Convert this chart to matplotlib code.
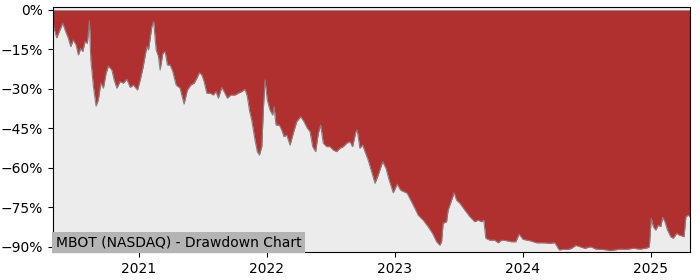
import pandas as pd
import matplotlib
matplotlib.use('Agg')
import matplotlib.pyplot as plt
import matplotlib.dates as mdates
from matplotlib.ticker import FuncFormatter

# Constants
TICKER_LABEL = 'MBOT (NASDAQ) - Drawdown Chart'
FILL_COLOR = '#b03030'
BG_COLOR = '#ececec'
LINE_COLOR = '#808080'

# Drawdown: time as decimal years, drawdown in percent
years = [
    2020.329, 2020.358, 2020.378, 2020.405, 2020.423, 2020.449, 2020.467, 2020.488,
    2020.509, 2020.527, 2020.545, 2020.561, 2020.579, 2020.597, 2020.613, 2020.624,
    2020.644, 2020.665, 2020.683, 2020.702, 2020.722, 2020.743, 2020.761, 2020.788,
    2020.806, 2020.827, 2020.852, 2020.878, 2020.905, 2020.931, 2020.956, 2020.988,
    2021.009, 2021.030, 2021.061, 2021.074, 2021.100, 2021.114, 2021.134, 2021.152,
    2021.165, 2021.186, 2021.204, 2021.222, 2021.243, 2021.264, 2021.290, 2021.321,
    2021.352, 2021.378, 2021.405, 2021.431, 2021.452, 2021.472, 2021.491, 2021.509,
    2021.530, 2021.556, 2021.581, 2021.602, 2021.620, 2021.647, 2021.665, 2021.691,
    2021.717, 2021.751, 2021.777, 2021.803, 2021.829, 2021.847, 2021.863, 2021.881,
    2021.907, 2021.925, 2021.941, 2021.960, 2021.972, 2021.985, 2022.003, 2022.024,
    2022.045, 2022.056, 2022.071, 2022.097, 2022.116, 2022.134, 2022.155, 2022.181,
    2022.206, 2022.233, 2022.264, 2022.290, 2022.316, 2022.337, 2022.358, 2022.381,
    2022.402, 2022.420, 2022.441, 2022.467, 2022.493, 2022.519, 2022.545, 2022.571,
    2022.597, 2022.624, 2022.649, 2022.670, 2022.696, 2022.706, 2022.727, 2022.749,
    2022.767, 2022.792, 2022.819, 2022.845, 2022.870, 2022.905, 2022.931, 2022.956,
    2022.988, 2023.019, 2023.045, 2023.071, 2023.097, 2023.131, 2023.157, 2023.183,
    2023.222, 2023.261, 2023.295, 2023.327, 2023.352, 2023.366, 2023.378, 2023.405,
    2023.417, 2023.444, 2023.464, 2023.483, 2023.509, 2023.548, 2023.587, 2023.626,
    2023.652, 2023.678, 2023.696, 2023.712, 2023.743, 2023.782, 2023.808, 2023.835,
    2023.874, 2023.913, 2023.946, 2023.972, 2024.003, 2024.056, 2024.108, 2024.160,
    2024.212, 2024.251, 2024.285, 2024.316, 2024.355, 2024.381, 2024.415, 2024.446,
    2024.485, 2024.530, 2024.571, 2024.616, 2024.655, 2024.681, 2024.720, 2024.759,
    2024.811, 2024.863, 2024.915, 2024.967, 2024.988, 2025.003, 2025.019, 2025.038,
    2025.058, 2025.077, 2025.092, 2025.110, 2025.128, 2025.155, 2025.175, 2025.202,
    2025.222, 2025.249, 2025.259, 2025.274, 2025.292, 2025.306,
]
drawdown = [
    -5.7, -10.6, -8.2, -5.0, -7.6, -10.8, -13.9, -11.4,
    -13.3, -17.1, -14.6, -15.8, -12.0, -12.7, -4.1, -19.0,
    -29.0, -36.5, -34.0, -27.8, -29.7, -24.0, -21.3, -22.8,
    -26.6, -29.7, -27.2, -27.8, -26.3, -29.4, -28.5, -30.4,
    -26.6, -22.1, -13.9, -15.2, -6.3, -4.4, -15.2, -17.7,
    -22.8, -16.5, -15.8, -20.9, -20.9, -23.4, -28.5, -29.7,
    -35.7, -30.4, -28.5, -27.8, -25.9, -23.8, -24.7, -27.2,
    -31.6, -31.6, -32.3, -31.0, -33.5, -29.4, -31.0, -33.5,
    -32.3, -32.3, -31.6, -31.0, -30.1, -32.9, -38.0, -41.8,
    -49.4, -53.8, -55.1, -51.9, -38.0, -26.6, -34.2, -38.0,
    -39.9, -36.7, -43.7, -43.7, -45.6, -48.1, -47.5, -51.3,
    -46.8, -42.4, -40.5, -42.4, -44.9, -46.2, -51.9, -53.8,
    -46.8, -43.7, -50.6, -51.9, -51.9, -53.2, -53.8, -52.5,
    -51.9, -50.6, -50.0, -51.9, -46.2, -45.6, -52.5, -51.3,
    -53.8, -57.0, -61.4, -65.8, -62.7, -57.6, -60.1, -64.6,
    -69.4, -66.1, -68.4, -69.0, -69.6, -72.8, -75.3, -77.9,
    -79.8, -82.3, -84.8, -88.0, -89.3, -88.0, -81.0, -80.4,
    -76.0, -72.2, -69.4, -72.2, -73.4, -76.0, -78.5, -80.4,
    -79.8, -80.4, -79.8, -86.7, -87.4, -87.4, -88.4, -87.4,
    -87.6, -88.0, -88.0, -85.1, -87.1, -87.6, -88.4, -88.4,
    -88.6, -88.4, -91.1, -90.9, -90.9, -90.5, -89.4, -89.9,
    -90.5, -89.9, -90.8, -90.9, -91.1, -91.4, -91.1, -90.8,
    -90.9, -90.5, -90.8, -90.4, -89.9, -79.1, -82.3, -83.6,
    -81.7, -82.3, -78.7, -80.4, -83.3, -86.1, -86.7, -84.8,
    -85.5, -85.9, -86.1, -78.5, -77.9, -78.5,
]
y_ticks = [0, -15, -30, -45, -60, -75, -90]


def decimal_years_to_dates(values):
    # fractional year -> timestamp
    out = []
    for v in values:
        yr = int(v)
        start = pd.Timestamp(year=yr, month=1, day=1)
        end = pd.Timestamp(year=yr + 1, month=1, day=1)
        out.append(start + (end - start) * (v - yr))
    return pd.to_datetime(out)


if __name__ == "__main__":
    df = pd.DataFrame({'date': decimal_years_to_dates(years), 'dd': drawdown})

    fig = plt.figure(figsize=(7, 2.8), dpi=100)
    ax = fig.add_axes([0.0757, 0.1, 0.91, 0.875])
    ax.set_facecolor(BG_COLOR)

    ax.fill_between(df['date'], df['dd'], 0, color=FILL_COLOR, linewidth=0)
    ax.plot(df['date'], df['dd'], color=LINE_COLOR, linewidth=0.8)

    ax.set_xlim(df['date'].min(), df['date'].max())
    ax.set_ylim(-91.9, 1.1)
    ax.set_yticks(y_ticks)
    ax.yaxis.set_major_formatter(FuncFormatter(lambda v, p: f'{v:.0f}%'.replace('-', '\u2212')))
    ax.xaxis.set_major_locator(mdates.YearLocator())
    ax.xaxis.set_major_formatter(mdates.DateFormatter('%Y'))
    ax.tick_params(labelsize=10)

    ax.text(0.004, 0.012, TICKER_LABEL, transform=ax.transAxes, fontsize=10,
            ha='left', va='bottom',
            bbox=dict(facecolor='#b4b4b4', edgecolor='none', pad=2.5))

    fig.savefig('out.png', dpi=100)
    plt.close()
